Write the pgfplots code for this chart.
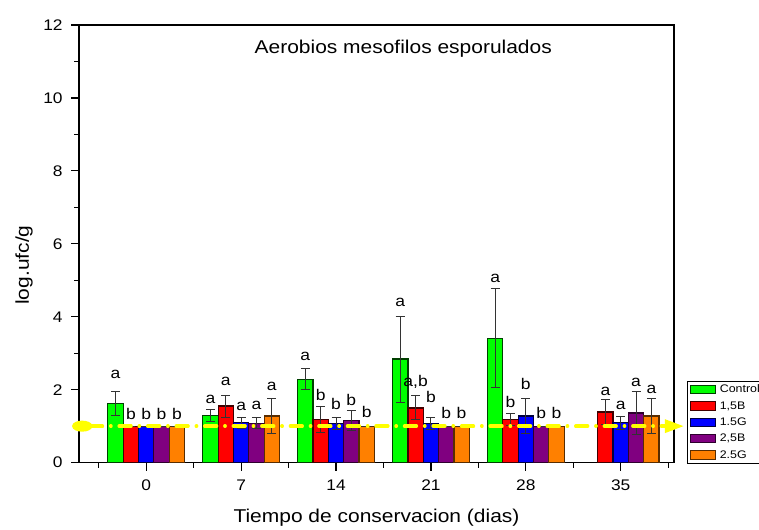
\documentclass[border=0pt]{standalone}
\usepackage{fontspec}
\setmainfont{Liberation Sans}[FakeStretch=1.13]
\usepackage{pgfplots}
\pgfplotsset{compat=1.18}
\usepackage{pgfplotstable}
\usetikzlibrary{arrows.meta}
\definecolor{cgreen}{RGB}{0,255,0}
\definecolor{cred}{RGB}{255,0,0}
\definecolor{cblue}{RGB}{0,0,255}
\definecolor{cpurple}{RGB}{128,0,128}
\definecolor{corange}{RGB}{255,128,0}
\definecolor{cyellow}{RGB}{255,255,0}

\pgfplotstableread{
x y e
0 1.62 0.33
1 1.30 0.16
2 2.29 0.29
3 2.84 1.18
4 3.41 1.36
}\control
\pgfplotstableread{
x y e
0 1.00 0.00
1 1.55 0.30
2 1.18 0.36
3 1.50 0.33
4 1.19 0.17
5 1.39 0.35
}\unocincoB
\pgfplotstableread{
x y e
0 1.00 0.00
1 1.09 0.15
2 1.08 0.17
3 1.08 0.17
4 1.28 0.48
5 1.09 0.17
}\unocincoG
\pgfplotstableread{
x y e
0 1.00 0.00
1 1.08 0.15
2 1.15 0.27
3 1.00 0.00
4 1.00 0.00
5 1.36 0.59
}\doscincoB
\pgfplotstableread{
x y e
0 1.00 0.00
1 1.28 0.47
2 1.00 0.00
3 1.00 0.00
4 1.00 0.00
5 1.28 0.48
}\doscincoG
\pgfplotstableread{
x y t
-0.3232 2.31 a
-0.1616 1.18 b
0 1.18 b
0.1616 1.18 b
0.3232 1.18 b
0.6768 1.63 a
0.8384 2.11 a
1 1.43 a
1.1616 1.46 a
1.3232 1.98 a
1.6768 2.80 a
1.8384 1.70 b
2 1.47 b
2.1616 1.57 b
2.3232 1.24 b
2.6768 4.29 a
2.8384 2.10 a,b
3 1.64 b
3.1616 1.22 b
3.3232 1.22 b
3.6768 4.95 a
3.8384 1.52 b
4 2.00 b
4.1616 1.20 b
4.3232 1.20 b
4.8384 1.84 a
5 1.47 a
5.1616 2.09 a
5.3232 1.89 a
}\labels

\begin{document}
\begin{tikzpicture}
\begin{axis}[
  name=ax,
  scale only axis,
  width=594bp, height=437bp,
  xmin=-0.707, xmax=5.56,
  ymin=0, ymax=12,
  clip=false,
  xtick={0,1,2,3,4,5},
  xticklabels={0,7,14,21,28,35},
  minor xtick={-0.5,0.5,1.5,2.5,3.5,4.5,5.5},
  ytick={0,2,4,6,8,10,12},
  minor y tick num=1,
  tick align=outside,
  xtick pos=left, ytick pos=left,
  major tick length=8bp,
  minor tick length=5bp,
  every tick/.style={black, line width=1.2bp},
  axis line style={black, line width=1.3bp},
  /pgf/number format/assume math mode=true,
  tick label style={font=\fontsize{15.4}{17}\selectfont},
  xticklabel style={yshift=-6bp},
  yticklabel style={xshift=-5bp},
  xlabel={Tiempo de conservacion (dias)},
  ylabel={log.ufc/g},
  label style={font=\fontsize{18.6}{21}\selectfont},
  xlabel style={yshift=-11bp},
  ylabel style={at={(axis description cs:-0.0926,0.4515)}, anchor=center, rotate=0},
  title={Aerobios mesofilos esporulados},
  title style={font=\fontsize{18.6}{21}\selectfont, at={(0.545,0.922)}, anchor=base},
  legend style={at={(rel axis cs:1,0)}, anchor=south west, xshift=13bp, yshift=-1bp,
    draw=black, line width=0.8bp, font=\fontsize{11}{12}\selectfont,
    inner xsep=3bp, inner ysep=2.5bp, row sep=5.2bp,
    nodes={inner xsep=3.5bp, inner ysep=1bp, anchor=west}},
  legend cell align=left,
  legend image code/.code={\draw[#1, line width=1bp] (0bp,-4.2bp) rectangle (25bp,4.2bp);},
  error bars/y dir=both,
  error bars/y explicit,
  error bars/error bar style={line width=1bp, black!80},
  error bars/error mark options={rotate=90, mark size=4.5bp, line width=1bp, black!80},
]
\addplot[ybar, bar width=0.1616, bar shift=0, fill=cgreen, draw=cgreen!25!black, line width=1.2bp]
  table[x expr=\thisrow{x}-0.3232, y=y, y error=e] {\control};
\addlegendentry{Control}
\addplot[ybar, bar width=0.1616, bar shift=0, fill=cred, draw=cred!25!black, line width=1.2bp]
  table[x expr=\thisrow{x}-0.1616, y=y, y error=e] {\unocincoB};
\addlegendentry{1,5B}
\addplot[ybar, bar width=0.1616, bar shift=0, fill=cblue, draw=cblue!25!black, line width=1.2bp]
  table[x=x, y=y, y error=e] {\unocincoG};
\addlegendentry{1.5G}
\addplot[ybar, bar width=0.1616, bar shift=0, fill=cpurple, draw=cpurple!35!black, line width=1.2bp]
  table[x expr=\thisrow{x}+0.1616, y=y, y error=e] {\doscincoB};
\addlegendentry{2,5B}
\addplot[ybar, bar width=0.1616, bar shift=0, fill=corange, draw=corange!35!black, line width=1.2bp]
  table[x expr=\thisrow{x}+0.3232, y=y, y error=e] {\doscincoG};
\addlegendentry{2.5G}
\addplot[forget plot, no markers, cyellow, line width=3.3bp, line cap=round,
  dash pattern=on 12bp off 8bp on 0.5bp off 8bp,
  {Ellipse[length=20bp,width=11bp,sep=0pt]}-{Triangle[length=19bp,width=13bp]}]
  coordinates {(-0.78,1) (5.665,1)};
\addplot[forget plot, draw=none, mark=none, nodes near coords,
  point meta=explicit symbolic,
  every node near coord/.style={anchor=base, inner sep=0pt, font=\fontsize{15.5}{17}\selectfont, text=black}]
  table[x=x, y=y, meta=t] {\labels};
\end{axis}
\pgfresetboundingbox
\path[use as bounding box] ([xshift=-79bp,yshift=-67bp]ax.south west) rectangle ([xshift=85bp,yshift=25bp]ax.north east);
\end{tikzpicture}
\end{document}
